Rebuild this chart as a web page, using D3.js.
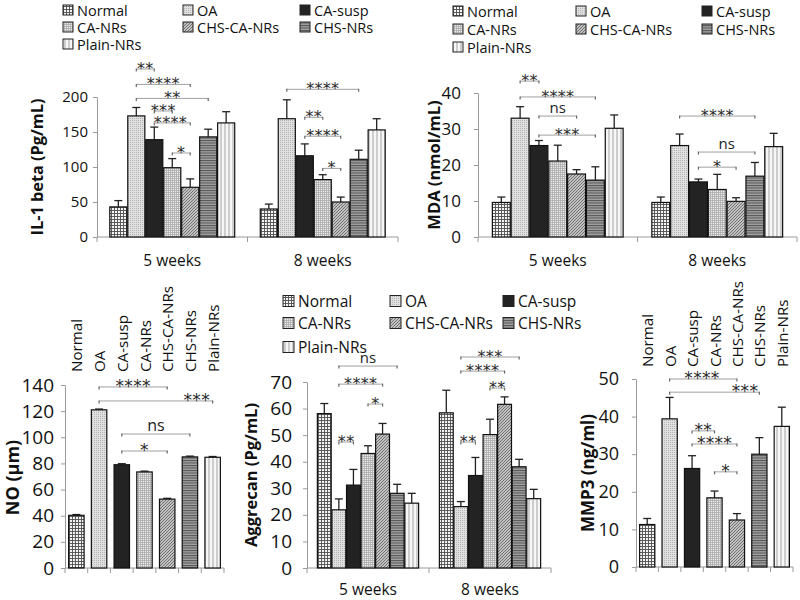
<!DOCTYPE html>
<html><head><meta charset="utf-8">
<script src="https://cdn.jsdelivr.net/npm/d3@7"></script>
<style>body{margin:0;background:#fff}svg{font-family:"Open Sans",sans-serif}</style>
</head><body>
<svg id="c" width="800" height="600"></svg>
<script>
// ---------- DATA ----------
const series = ["Normal","OA","CA-susp","CA-NRs","CHS-CA-NRs","CHS-NRs","Plain-NRs"];
const weeks = ["5 weeks","8 weeks"];

const il1Mean5 = [43,173,139,99,71,143,163];
const il1Err5  = [9,12,18,13,12,11,16];
const il1Mean8 = [40,169,116,82,50,111,153];
const il1Err8  = [7,27,17,7,7,13,16];
const il1Ticks = [0,50,100,150,200];

const mdaMean5 = [9.6,33,25.4,21.1,17.5,15.8,30.2];
const mdaErr5  = [1.5,3.2,1.4,4.4,1.2,3.7,3.7];
const mdaMean8 = [9.6,25.4,15.3,13.2,9.9,16.9,25.1];
const mdaErr8  = [1.5,3.2,0.8,4.2,1.0,3.8,3.7];
const mdaTicks = [0,10,20,30,40];

const noMean = [40.3,121,79,73.5,52.7,85,84.7];
const noErr  = [0.6,0.6,0.8,0.6,0.6,0.6,0.6];
const noTicks = [0,20,40,60,80,100,120,140];

const aggMean5 = [58.1,21.9,31.2,43.1,50.4,28.1,24.4];
const aggErr5  = [3.8,4.1,5.9,2.9,4.0,3.4,3.7];
const aggMean8 = [58.4,23.1,34.8,50.2,61.6,38.1,26.1];
const aggErr8  = [8.5,1.9,6.8,5.8,2.8,2.8,3.5];
const aggTicks = [0,10,20,30,40,50,60,70];

const mmpMean = [11.3,39.4,26.2,18.4,12.5,30,37.4];
const mmpErr  = [1.6,5.7,3.4,1.8,1.7,4.4,5.1];
const mmpTicks = [0,10,20,30,40,50];

// significance brackets: [group, fromSeries, toSeries, yValue, label, labelFraction]
const il1Sig = [[0,1,2,240,"**",0.5],[0,1,4,218,"****",0.5],[0,1,5,198,"**",0.5],[0,2,3,180,"***",0.5],[0,2,4,163,"****",0.45],[0,3,4,120,"*",0.5],
                [1,1,5,211,"****",0.5],[1,2,3,171,"**",0.5],[1,2,4,144,"****",0.5],[1,3,4,98,"*",0.5]];
const mdaSig = [[0,1,2,43.3,"**",0.5],[0,1,5,38.9,"****",0.5],[0,2,4,33.6,"ns",0.5],[0,2,5,28.3,"***",0.5],
                [1,1,5,33.6,"****",0.5],[1,2,5,23.6,"ns",0.5],[1,2,4,19.4,"*",0.5]];
const noSig  = [[0,1,4,138.5,"****",0.5],[0,1,6,127.8,"***",0.86],[0,2,5,102.5,"ns",0.5],[0,2,4,89.5,"*",0.5]];
const aggSig = [[0,1,5,76,"ns",0.5],[0,1,4,69.2,"****",0.5],[0,3,4,61.7,"*",0.5],[0,1,2,47.4,"**",0.5],
                [1,1,5,79.4,"***",0.5],[1,1,4,74.1,"****",0.5],[1,3,4,67.7,"**",0.5],[1,1,2,47.4,"**",0.5]];
const mmpSig = [[0,1,4,50,"****",0.48],[0,1,5,46.5,"***",0.84],[0,2,3,36.2,"**",0.5],[0,2,4,32.7,"****",0.5],[0,3,4,25.3,"*",0.5]];

// ---------- STYLE ----------
const svg = d3.select("#c");
const defs = svg.append("defs");
function pat(id, w, h, bg, draw){
  const p = defs.append("pattern").attr("id",id).attr("patternUnits","userSpaceOnUse").attr("width",w).attr("height",h);
  p.append("rect").attr("width",w).attr("height",h).attr("fill",bg);
  draw(p); return "url(#"+id+")";
}
const fills = [
  pat("pNormal",3,3,"#f4f4f4",p=>{p.append("path").attr("d","M0,0.5H3M0.5,0V3").attr("stroke","#4e4e4e").attr("stroke-width",0.9);}),
  pat("pOA",2,2,"#e0e0e0",p=>{p.append("rect").attr("x",0).attr("y",0).attr("width",1).attr("height",1).attr("fill","#b4b4b4");}),
  "#232323",
  pat("pCANRs",2,2,"#ececec",p=>{p.append("path").attr("d","M0,0.5H2M0.5,0V2").attr("stroke","#ababab").attr("stroke-width",0.8);}),
  pat("pCHSCA",3,3,"#c0c0c0",p=>{p.append("path").attr("d","M0,3L3,0M-1,1L1,-1M2,4L4,2").attr("stroke","#6a6a6a").attr("stroke-width",0.9);}),
  pat("pCHS",2,2.5,"#a2a2a2",p=>{p.append("path").attr("d","M0,0.5H2").attr("stroke","#555").attr("stroke-width",1);}),
  pat("pPlain",4,4,"#f6f6f6",p=>{p.append("rect").attr("x",0).attr("width",2).attr("height",4).attr("fill","#cdcdcd");})
];
const axisCol = "#9a9a9a", font = "'Open Sans',sans-serif";

function yAxis(y, ticks, x, fs, pad){
  const g = svg.append("g").attr("transform",`translate(${x},0)`)
    .call(d3.axisLeft(y).tickValues(ticks).tickSize(4).tickPadding(pad).tickSizeOuter(0));
  g.select(".domain").attr("stroke",axisCol);
  g.selectAll(".tick line").attr("stroke",axisCol);
  g.selectAll(".tick text").attr("fill","#111").attr("font-size",fs).attr("font-family",font);
}
function xBase(x0,x1,y0,ticksX){
  svg.append("line").attr("x1",x0).attr("x2",x1).attr("y1",y0).attr("y2",y0).attr("stroke",axisCol);
  ticksX.forEach(t=>svg.append("line").attr("x1",t).attr("x2",t).attr("y1",y0).attr("y2",y0+5).attr("stroke",axisCol));
}
function bars(cx, w, means, errs, y){
  means.forEach((m,i)=>{
    const xc = cx(i);
    svg.append("line").attr("x1",xc).attr("x2",xc).attr("y1",y(m)).attr("y2",y(m+errs[i])).attr("stroke","#222").attr("stroke-width",1.3);
    svg.append("line").attr("x1",xc-4).attr("x2",xc+4).attr("y1",y(m+errs[i])).attr("y2",y(m+errs[i])).attr("stroke","#222").attr("stroke-width",1.3);
    svg.append("rect").attr("x",xc-w/2).attr("y",y(m)).attr("width",w).attr("height",y(0)-y(m))
      .attr("fill",fills[i]).attr("stroke","#111").attr("stroke-width",1.2);
  });
}
function bracket(xa, xb, yy, label, frac, fs){
  svg.append("line").attr("x1",xa).attr("x2",xb).attr("y1",yy).attr("y2",yy).attr("stroke","#a0a0a0").attr("stroke-width",1);
  [xa,xb].forEach(xx=>svg.append("line").attr("x1",xx).attr("x2",xx).attr("y1",yy-0.5).attr("y2",yy+2.5).attr("stroke","#666").attr("stroke-width",1.2));
  const tx = xa + frac*(xb-xa);
  const isNs = label==="ns";
  svg.append("text").attr("x",tx).attr("y", isNs ? yy-3 : yy+5).attr("text-anchor","middle")
    .attr("font-size", isNs ? fs+1 : fs+2).attr("fill", isNs?"#222":"#2a2a2a")
    .attr("font-family", isNs ? font : "'DejaVu Sans',sans-serif")
    .attr("letter-spacing", isNs?0:0.3).text(label);
}
function yLabel(x, cy, text, fs){
  svg.append("text").attr("transform",`translate(${x},${cy}) rotate(-90)`).attr("text-anchor","middle")
    .attr("dominant-baseline","central").attr("font-weight","bold").attr("font-size",fs).attr("font-family",font).attr("fill","#111").text(text);
}
function legend(cols, rows, fs, sw, gap){
  series.forEach((s,i)=>{
    const cx = cols[i%3], cy = rows[Math.floor(i/3)];
    svg.append("rect").attr("x",cx).attr("y",cy-sw/2).attr("width",sw).attr("height",sw).attr("fill",fills[i]).attr("stroke","#222").attr("stroke-width",1);
    svg.append("text").attr("x",cx+sw+gap).attr("y",cy).attr("dominant-baseline","central").attr("font-size",fs).attr("font-family",font).attr("fill","#111").text(s);
  });
}

function grouped(cfg){
  const y = d3.scaleLinear().domain([0,cfg.max]).range([cfg.y0,cfg.yTop]);
  const xg = d3.scaleBand().domain(weeks).range([cfg.x0,cfg.x1]);
  const bw = xg.bandwidth(), pad = bw*cfg.padFrac;
  const xi = d3.scaleBand().domain(series).range([pad,bw-pad]).paddingInner(0.05);
  const cxOf = g => i => xg(weeks[g]) + xi(series[i]) + xi.bandwidth()/2;
  xBase(cfg.x0,cfg.x1,cfg.y0,[cfg.x0,cfg.x0+bw,cfg.x1]);
  yAxis(y,cfg.ticks,cfg.x0,cfg.tickFs,cfg.tickPad);
  cfg.means.forEach((m,g)=>bars(cxOf(g), xi.bandwidth(), m, cfg.errs[g], y));
  cfg.sig.forEach(s=>bracket(cxOf(s[0])(s[1]), cxOf(s[0])(s[2]), y(s[3]), s[4], s[5], cfg.sigFs));
  weeks.forEach(w=>svg.append("text").attr("x",xg(w)+bw/2).attr("y",cfg.xlabY).attr("text-anchor","middle")
    .attr("font-size",cfg.xlabFs).attr("font-family",font).attr("fill","#111").text(w));
  yLabel(cfg.ylabX, (cfg.y0+cfg.yTop)/2, cfg.ylab, cfg.ylabFs);
}
function single(cfg){
  const y = d3.scaleLinear().domain([0,cfg.max]).range([cfg.y0,cfg.yTop]);
  const x = d3.scaleBand().domain(series).range([cfg.x0,cfg.x1]).padding(0);
  const w = x.bandwidth()*0.68;
  const cx = i => x(series[i]) + x.bandwidth()/2;
  xBase(cfg.x0,cfg.x1,cfg.y0,series.map(s=>x(s)).concat([cfg.x1]));
  yAxis(y,cfg.ticks,cfg.x0,cfg.tickFs,cfg.tickPad);
  bars(cx, w, cfg.means, cfg.errs, y);
  cfg.sig.forEach(s=>bracket(cx(s[1]), cx(s[2]), y(s[3]), s[4], s[5], cfg.sigFs));
  series.forEach((s,i)=>svg.append("text").attr("transform",`translate(${cx(i)},${cfg.catY}) rotate(-90)`)
    .attr("dominant-baseline","central").attr("font-size",cfg.catFs).attr("font-family",font).attr("fill","#111").text(s));
  yLabel(cfg.ylabX, (cfg.y0+cfg.yTop)/2 + cfg.ylabDy, cfg.ylab, cfg.ylabFs);
}

// ---------- PANELS ----------
legend([63,183,300],[10,27,44],14.5,10,4);
grouped({x0:97,x1:398,y0:237,yTop:97,max:200,ticks:il1Ticks,tickFs:15,tickPad:5,padFrac:0.085,
  means:[il1Mean5,il1Mean8],errs:[il1Err5,il1Err8],sig:il1Sig,sigFs:14,xlabY:266,xlabFs:15.5,
  ylab:"IL-1 beta (Pg/mL)",ylabX:37,ylabFs:16.3});

legend([453,576,702],[11,29,47],14.5,10,4);
grouped({x0:478,x1:797,y0:237,yTop:93,max:40,ticks:mdaTicks,tickFs:17,tickPad:13,padFrac:0.09,
  means:[mdaMean5,mdaMean8],errs:[mdaErr5,mdaErr8],sig:mdaSig,sigFs:14,xlabY:266,xlabFs:15.5,
  ylab:"MDA (nmol/mL)",ylabX:433,ylabFs:16.5});

single({x0:65,x1:224,y0:568,yTop:385,max:140,ticks:noTicks,tickFs:19,tickPad:7,
  means:noMean,errs:noErr,sig:noSig,sigFs:15,catY:372,catFs:15.2,
  ylab:"NO (µm)",ylabX:12,ylabFs:18,ylabDy:1});

legend([283,390,503],[301,323,347],15.5,11,4);
grouped({x0:307,x1:551,y0:568,yTop:382,max:70,ticks:aggTicks,tickFs:19,tickPad:11,padFrac:0.085,
  means:[aggMean5,aggMean8],errs:[aggErr5,aggErr8],sig:aggSig,sigFs:14,xlabY:595,xlabFs:15.5,
  ylab:"Aggrecan (Pg/mL)",ylabX:250,ylabFs:16.5});

single({x0:636,x1:793,y0:567,yTop:379,max:50,ticks:mmpTicks,tickFs:18,tickPad:13,
  means:mmpMean,errs:mmpErr,sig:mmpSig,sigFs:15,catY:367,catFs:15.2,
  ylab:"MMP3 (ng/ml)",ylabX:587,ylabFs:17,ylabDy:0});
</script>
</body></html>
